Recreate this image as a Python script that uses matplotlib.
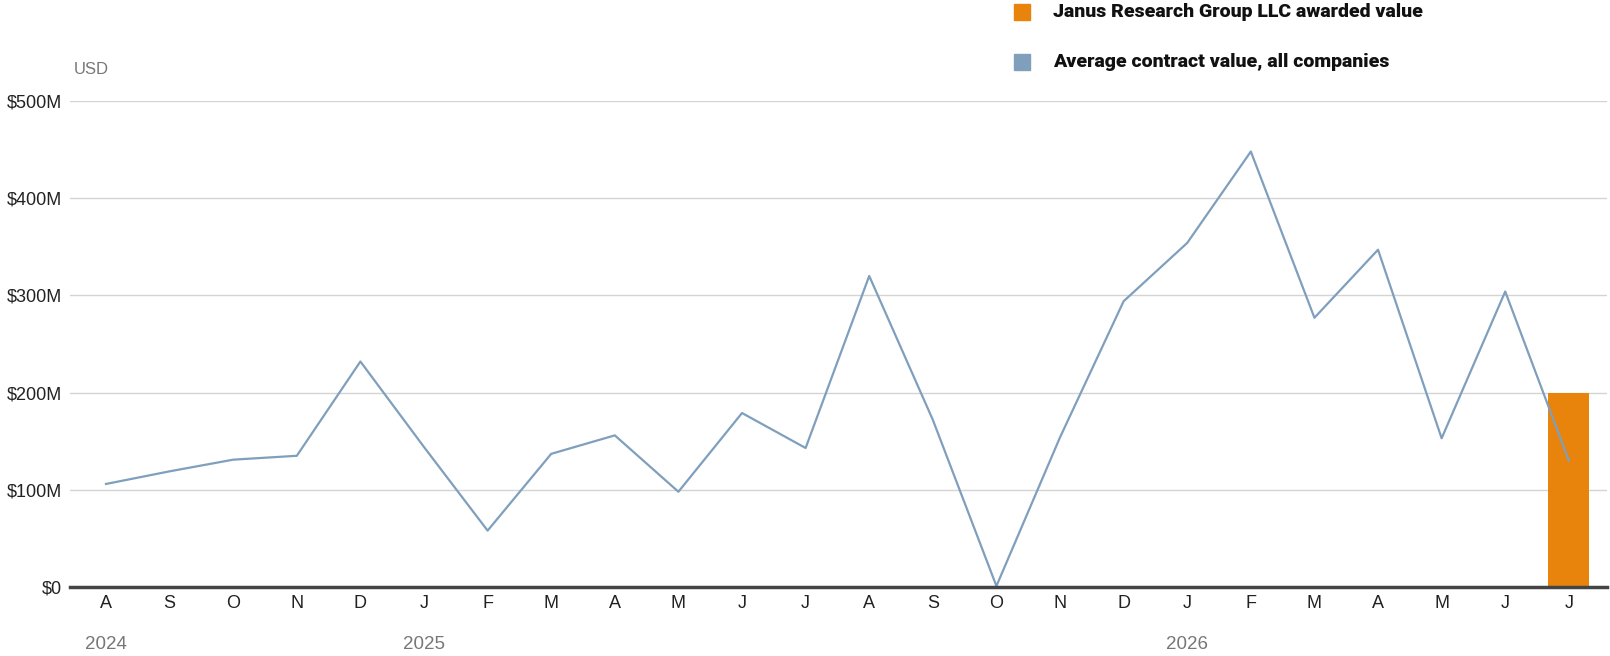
import matplotlib
matplotlib.use('Agg')
from matplotlib import pyplot as plt
from matplotlib.patches import Rectangle

# Monthly data, Aug 2024 .. Jul 2026 (values in $M)
months = ['A', 'S', 'O', 'N', 'D', 'J', 'F', 'M', 'A', 'M', 'J', 'J',
          'A', 'S', 'O', 'N', 'D', 'J', 'F', 'M', 'A', 'M', 'J', 'J']
avg_value = [106, 119, 131, 135, 232, 144, 58, 137, 156, 98, 179, 143,
             320, 172, 1, 154, 294, 354, 448, 277, 347, 153, 304, 130]
janus_value = [0] * 23 + [200]
years = ['2024', '2025', '2026']
year_pos = [0, 5, 17]
yticks = [0, 100, 200, 300, 400, 500]
ytick_labels = ['$0', '$100M', '$200M', '$300M', '$400M', '$500M']

line_color = '#7f9fbd'
bar_color = '#e8830c'

fig = plt.figure(figsize=(16.1, 6.56), dpi=100)
ax = fig.add_axes([70 / 1610, 1 - 587 / 656, 1537 / 1610, 486 / 656])

x = list(range(len(months)))
bx = [i for i, v in enumerate(janus_value) if v > 0]
bv = [v for v in janus_value if v > 0]
ax.bar(bx, bv, width=0.645, color=bar_color, zorder=2)
ax.plot(x, avg_value, color=line_color, linewidth=1.6, zorder=3)

ax.set_xlim(-0.566, 23.6)
ax.set_ylim(0, 500)
ax.set_yticks(yticks)
ax.set_yticklabels(ytick_labels)
ax.set_xticks(x)
ax.set_xticklabels(months)
for s in ['top', 'right', 'left']:
    ax.spines[s].set_visible(False)
ax.spines['bottom'].set_color('#444444')
ax.spines['bottom'].set_linewidth(2.5)
ax.spines['bottom'].set_zorder(4)
ax.grid(axis='y', color='#d4d4d4', linewidth=1)
ax.set_axisbelow(True)
ax.tick_params(axis='both', length=0, labelsize=13, colors='#222222')
ax.tick_params(axis='x', pad=6)
ax.tick_params(axis='y', pad=6)
for lab in ax.get_xticklabels() + ax.get_yticklabels():
    lab.set_family('Liberation Sans')

# year labels under the months
for yr, p in zip(years, year_pos):
    ax.text(p, -0.118, yr, transform=ax.get_xaxis_transform(), ha='center',
            va='center', fontsize=13.5, color='#777777', family='Liberation Sans')

fig.text(74 / 1610, 1 - 69 / 656, 'USD', fontsize=12, color='#777777',
         ha='left', va='center', family='Liberation Sans')

# legend
legend_items = [('Janus Research Group LLC awarded value', bar_color, 12),
                ('Average contract value, all companies', line_color, 62)]
for label, col, yy in legend_items:
    fig.patches.append(Rectangle((1014 / 1610, 1 - (yy + 8) / 656), 16 / 1610, 16 / 656,
                                 transform=fig.transFigure, color=col))
    fig.text(1053 / 1610, 1 - yy / 656, label, fontsize=14, fontweight='heavy',
             color='#111111', ha='left', va='center', family=['Roboto', 'DejaVu Sans'])

plt.savefig('out.png', dpi=100)
